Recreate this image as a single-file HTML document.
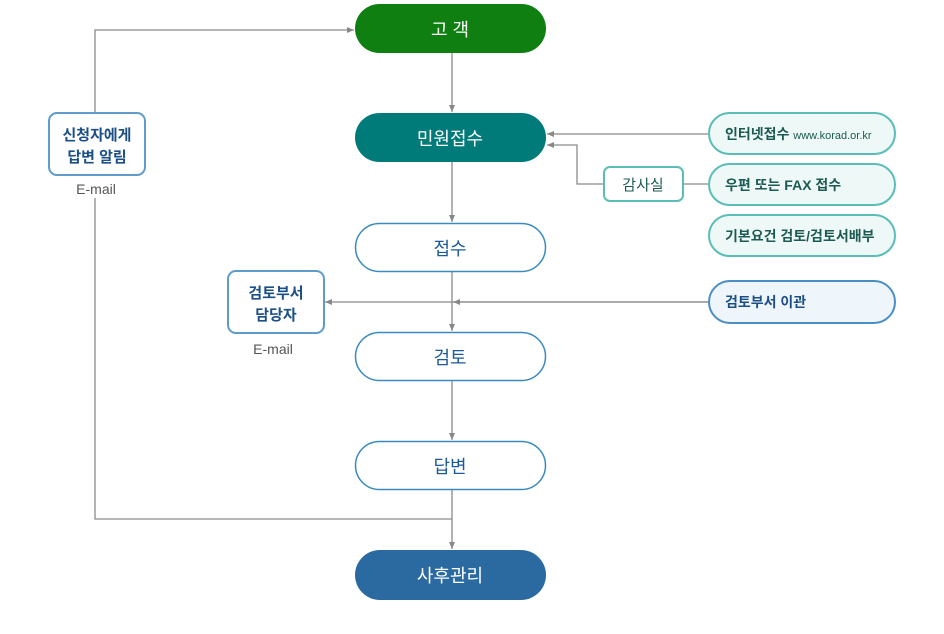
<!DOCTYPE html>
<html><head><meta charset="utf-8"><style>
html,body{margin:0;padding:0;background:#fff;}
svg{display:block;font-family:"Liberation Sans","Noto Sans CJK KR",sans-serif;}
</style></head><body>
<svg width="944" height="634" viewBox="0 0 944 634" xmlns="http://www.w3.org/2000/svg">
<defs><marker id="a" markerWidth="8" markerHeight="8" refX="7" refY="4" orient="auto" markerUnits="userSpaceOnUse"><path d="M0,1 L7,4 L0,7 Z" fill="#888"/></marker></defs>
<g stroke="#8a8a8a" stroke-width="1.3" fill="none">
<line x1="452" y1="53" x2="452" y2="112" marker-end="url(#a)"/>
<line x1="452" y1="162" x2="452" y2="222" marker-end="url(#a)"/>
<line x1="452" y1="272" x2="452" y2="331" marker-end="url(#a)"/>
<line x1="452" y1="381" x2="452" y2="440" marker-end="url(#a)"/>
<line x1="452" y1="490" x2="452" y2="549" marker-end="url(#a)"/>
<polyline points="95,113 95,30 354,30" marker-end="url(#a)"/>
<polyline points="95,198 95,519 452,519"/>
<line x1="708" y1="302" x2="325" y2="302" marker-end="url(#a)"/>
<line x1="708" y1="302" x2="453" y2="302" marker-end="url(#a)"/>
<line x1="708" y1="134" x2="547" y2="134" marker-end="url(#a)"/>
<polyline points="604,184 577,184 577,145 547,145" marker-end="url(#a)"/>
<line x1="683" y1="184" x2="708" y2="184"/>
</g>
<rect x="355" y="4" width="191" height="49" rx="24.5" fill="#0e7f10"/>
<text x="450" y="36" fill="#fff" font-size="18" text-anchor="middle">고 객</text>
<rect x="355" y="113" width="191" height="49" rx="24.5" fill="#017b79"/>
<text x="450" y="145" fill="#fff" font-size="18" text-anchor="middle">민원접수</text>
<g fill="#fff" stroke="#3a8abf" stroke-width="1.5">
<rect x="355.5" y="223.5" width="190" height="48" rx="24"/>
<rect x="355.5" y="332.5" width="190" height="48" rx="24"/>
<rect x="355.5" y="441.5" width="190" height="48" rx="24"/>
</g>
<g fill="#1c5a9a" font-size="18" text-anchor="middle">
<text x="450" y="255">접수</text><text x="450" y="364">검토</text><text x="450" y="473">답변</text>
</g>
<rect x="355" y="550" width="191" height="50" rx="25" fill="#2b6aa0"/>
<text x="450" y="582" fill="#fff" font-size="18" text-anchor="middle">사후관리</text>
<g fill="#fff" stroke="#5f9ccc" stroke-width="2">
<rect x="49" y="113" width="96" height="62" rx="8"/>
<rect x="228" y="271" width="96" height="62" rx="8"/>
</g>
<g fill="#1c4f86" font-size="15" font-weight="bold" text-anchor="middle">
<text x="97" y="140">신청자에게</text><text x="97" y="162">답변 알림</text>
<text x="276" y="298">검토부서</text><text x="276" y="320">담당자</text>
</g>
<g fill="#555" font-size="14" text-anchor="middle"><text x="96" y="194">E-mail</text><text x="273" y="354">E-mail</text></g>
<g fill="#eef8f7" stroke="#5bbdb7" stroke-width="2">
<rect x="709" y="113" width="186" height="41" rx="20.5"/>
<rect x="709" y="164" width="186" height="41" rx="20.5"/>
<rect x="709" y="215" width="186" height="41" rx="20.5"/>
<rect x="604" y="167" width="79" height="34" rx="6" fill="#fff"/>
</g>
<rect x="709" y="281" width="186" height="42" rx="21" fill="#eef5fb" stroke="#4a8ec4" stroke-width="2"/>
<g fill="#1a5a52" font-size="14" font-weight="bold">
<text x="725" y="139">인터넷접수 <tspan font-size="11" font-weight="normal">www.korad.or.kr</tspan></text>
<text x="725" y="190">우편 또는 FAX 접수</text>
<text x="725" y="241">기본요건 검토/검토서배부</text>
<text x="643" y="190" text-anchor="middle" font-weight="normal" font-size="15">감사실</text>
</g>
<text x="725" y="307" fill="#1c4f86" font-size="14" font-weight="bold">검토부서 이관</text>
</svg>
</body></html>
